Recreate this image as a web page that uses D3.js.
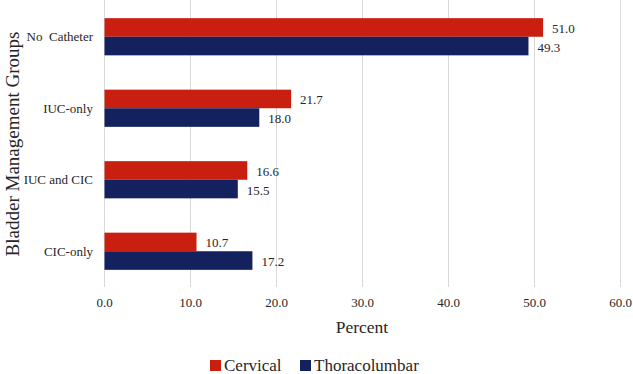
<!DOCTYPE html>
<html>
<head>
<meta charset="utf-8">
<script src="https://cdn.jsdelivr.net/npm/d3@7"></script>
<style>
  body { margin: 0; background: #fff; }
  svg text { font-family: 'Liberation Serif', 'Times New Roman', Times, 'DejaVu Serif', serif; fill: #262626; }
</style>
</head>
<body>
<svg id="chart"></svg>
<script>
// data
const categories = ['No\u00a0 Catheter', 'IUC-only', 'IUC and CIC', 'CIC-only'];
const seriesNames = ['Cervical', 'Thoracolumbar'];
const cervical = [51.0, 21.7, 16.6, 10.7];
const thoracolumbar = [49.3, 18.0, 15.5, 17.2];
const xTicks = [0, 10, 20, 30, 40, 50, 60];
const colors = ['#C81F10', '#13225F'];

const W = 633, H = 374;
const svg = d3.select('#chart').attr('width', W).attr('height', H);

const x = d3.scaleLinear().domain([0, 60]).range([104.5, 620.5]);
const y = d3.scaleBand().domain(categories).range([1, 287])
    .paddingInner(0.48).paddingOuter(0.24);
const sub = d3.scaleBand().domain(seriesNames).range([0, y.bandwidth()]);

// gridlines
svg.append('g')
    .selectAll('line')
    .data(xTicks)
    .enter()
    .append('line')
    .attr('x1', d => x(d)).attr('x2', d => x(d))
    .attr('y1', 0).attr('y2', 287)
    .attr('stroke', '#D9D9D9')
    .attr('stroke-width', 1);

const rows = categories.map((c, i) => ({ cat: c, vals: [cervical[i], thoracolumbar[i]] }));

const groups = svg.append('g')
    .selectAll('g')
    .data(rows)
    .enter()
    .append('g')
    .attr('transform', d => `translate(0,${y(d.cat)})`);

groups.selectAll('rect')
    .data(d => d.vals.map((v, j) => ({ name: seriesNames[j], v: v, j: j })))
    .enter()
    .append('rect')
    .attr('x', x(0))
    .attr('y', d => sub(d.name))
    .attr('width', d => x(d.v) - x(0))
    .attr('height', sub.bandwidth())
    .attr('fill', d => colors[d.j]);

groups.selectAll('text')
    .data(d => d.vals.map((v, j) => ({ name: seriesNames[j], v: v })))
    .enter()
    .append('text')
    .attr('x', d => x(d.v) + 9)
    .attr('y', d => sub(d.name) + sub.bandwidth() / 2 + 1)
    .attr('dominant-baseline', 'central')
    .style('font-size', '13px')
    .text(d => d.v.toFixed(1));

// category labels
svg.append('g')
    .selectAll('text')
    .data(categories)
    .enter()
    .append('text')
    .attr('x', 93)
    .attr('y', d => y(d) + y.bandwidth() / 2)
    .attr('text-anchor', 'end')
    .attr('dominant-baseline', 'central')
    .style('font-size', '13px')
    .text(d => d);

// x tick labels
svg.append('g')
    .selectAll('text')
    .data(xTicks)
    .enter()
    .append('text')
    .attr('x', d => x(d))
    .attr('y', 307)
    .attr('text-anchor', 'middle')
    .style('font-size', '13px')
    .text(d => d.toFixed(1));

// axis titles
svg.append('text')
    .attr('x', 362)
    .attr('y', 333)
    .attr('text-anchor', 'middle')
    .style('font-size', '17.5px')
    .text('Percent');

svg.append('text')
    .attr('transform', 'translate(12,144) rotate(-90)')
    .attr('text-anchor', 'middle')
    .attr('dominant-baseline', 'central')
    .style('font-size', '19px')
    .text('Bladder Management Groups');

// legend
const legendX = [210, 300];
const legend = svg.append('g')
    .selectAll('g')
    .data(seriesNames)
    .enter()
    .append('g')
    .attr('transform', (d, i) => `translate(${legendX[i]},360)`);
legend.append('rect')
    .attr('width', 11).attr('height', 11)
    .attr('fill', (d, i) => colors[i]);
legend.append('text')
    .attr('x', 14)
    .attr('y', 11)
    .style('font-size', '17px')
    .text(d => d);
</script>
</body>
</html>
